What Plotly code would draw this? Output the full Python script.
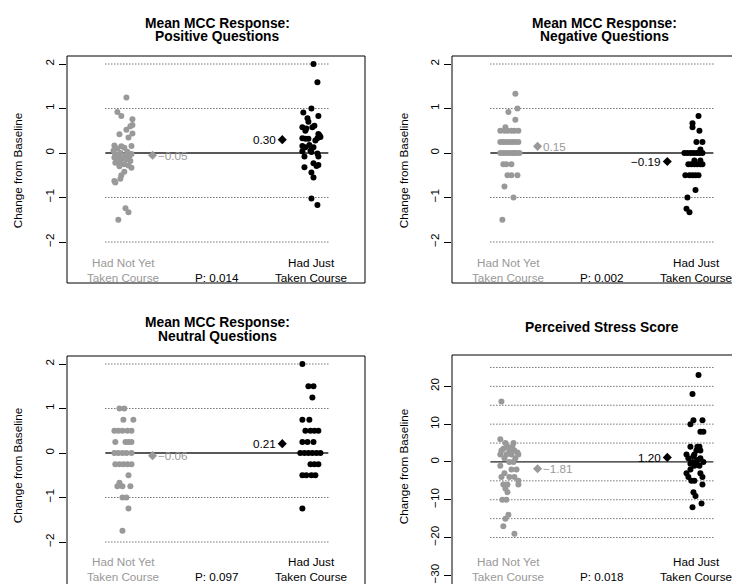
import plotly.graph_objects as go

# ---------------- data ----------------
panel_titles = [["Mean MCC Response:", "Positive Questions"],
                ["Mean MCC Response:", "Negative Questions"],
                ["Mean MCC Response:", "Neutral Questions"],
                ["Perceived Stress Score"]]
group_labels = [["Had Not Yet", "Taken Course"], ["Had Just", "Taken Course"]]
y_title = "Change from Baseline"
p_values = ["0.014", "0.002", "0.097", "0.018"]
mean_not = [-0.05, 0.15, -0.06, -1.81]
mean_just = [0.30, -0.19, 0.21, 1.20]
y_ticks = [[-2, -1, 0, 1, 2], [-2, -1, 0, 1, 2], [-2, -1, 0, 1, 2],
           [-30, -20, -10, 0, 10, 20]]
guide_levels = [[-2, -1, 1, 2], [-2, -1, 1, 2], [-2, -1, 1, 2],
                [-20, -15, -10, -5, 5, 10, 15, 20, 25]]

# Positive questions
pos_not = [1.25, 0.92, 0.83, 0.76, 0.63, 0.60, 0.52, 0.44, 0.42, 0.35,
           0.16, 0.17, 0.15, 0.12, 0.10, 0.05, 0.03, 0.00, -0.02, -0.03,
           -0.05, -0.07, -0.08, -0.10, -0.12, -0.14, -0.15, -0.18, -0.20, -0.22,
           -0.25, -0.28, -0.30, -0.33, -0.42, -0.50, -0.58, -0.63, -0.66, -1.24,
           -1.33, -1.50]
pos_not_jit = [0.016, -0.032, -0.011, 0.048, 0.048, 0.037, 0.016, 0.048, -0.021, 0.027,
               0.043, -0.048, -0.011, 0.005, -0.032, -0.053, 0.021, -0.016, 0.043, -0.043,
               0.011, -0.027, 0.032, -0.048, -0.005, 0.016, -0.032, 0.037, -0.016, -0.043,
               0.005, 0.027, -0.021, 0.043, 0.005, -0.011, -0.016, -0.048, -0.043, 0.011,
               0.027, -0.027]
pos_just = [2.00, 1.59, 1.00, 0.91, 0.83, 0.78, 0.70, 0.61, 0.58, 0.58,
            0.55, 0.50, 0.43, 0.40, 0.33, 0.33, 0.32, 0.32, 0.18, 0.16,
            0.13, 0.13, 0.05, 0.04, 0.02, -0.01, -0.08, -0.08, -0.23, -0.27,
            -0.29, -0.32, -0.44, -0.55, -1.02, -1.17, 0.36, 0.28]
pos_just_jit = [0.011, 0.032, 0.0, -0.043, 0.037, -0.021, -0.016, 0.016, -0.048, 0.005,
                -0.027, -0.032, 0.037, 0.043, -0.048, 0.032, -0.032, -0.016, -0.011, -0.048,
                -0.032, 0.011, -0.005, -0.048, 0.0, 0.032, 0.037, -0.037, 0.011, 0.037,
                0.027, -0.037, 0.0, 0.011, 0.0, 0.032, 0.048, 0.021]

# Negative questions
neg_not = [1.33, 1.00, 0.92, 0.75, 0.58,
           0.5, 0.5, 0.5, 0.5, 0.5, 0.5,
           0.25, 0.25, 0.25, 0.25, 0.25, 0.25, 0.25,
           0, 0, 0, 0, 0, 0, 0, 0,
           -0.25, -0.25, -0.25, -0.5, -0.5, -0.5, -0.75, -1.0, -1.5]
neg_not_jit = [0.037, 0.048, 0.0, 0.037, -0.016,
               -0.043, -0.021, -0.005, 0.016, 0.032, 0.053,
               -0.043, -0.027, -0.011, 0.005, 0.021, 0.037, 0.053,
               -0.043, -0.027, -0.011, 0.005, 0.021, 0.032, 0.043, 0.059,
               -0.027, -0.011, 0.016, -0.005, 0.016, 0.048, -0.021, 0.027, -0.032]
neg_just = [0.83, 0.67, 0.58, 0.5, 0.25, 0.25, 0.08,
            0, 0, 0, 0, 0, 0, 0,
            -0.17, -0.17,
            -0.25, -0.25, -0.25, -0.25, -0.25, -0.25,
            -0.5, -0.5, -0.5, -0.5, -0.5,
            -0.83, -1.0, -1.25, -1.33]
neg_just_jit = [0.011, -0.021, -0.021, 0.016, 0.0, 0.032, 0.021,
                -0.064, -0.048, -0.032, -0.016, 0.0, 0.016, 0.032,
                -0.011, 0.021,
                -0.043, -0.027, -0.011, 0.005, 0.021, 0.032,
                -0.059, -0.037, -0.021, -0.005, 0.011,
                -0.005, -0.048, -0.053, -0.037]

# Neutral questions
neu_not = [1.0, 1.0, 0.75, 0.75,
           0.5, 0.5, 0.5, 0.5, 0.5,
           0.25, 0.25, 0.25, 0.25,
           0, 0, 0, 0, 0,
           -0.25, -0.25, -0.25, -0.25, -0.25,
           -0.5, -0.67, -0.75, -0.75, -0.75, -1.0, -1.0, -1.25, -1.75]
neu_not_jit = [-0.021, 0.005, 0.0, 0.053,
               -0.048, -0.027, -0.005, 0.021, 0.043,
               -0.043, 0.011, 0.027, 0.043,
               -0.048, -0.027, -0.005, 0.016, 0.043,
               -0.043, -0.021, 0.0, 0.021, 0.043,
               0.027, -0.021, -0.032, -0.005, 0.037, -0.005, 0.016, 0.027, -0.005]
neu_just = [2.0, 1.5, 1.5, 1.25, 0.75, 0.75,
            0.5, 0.5, 0.5, 0.5,
            0.25, 0.25, 0.25,
            0, 0, 0, 0, 0, 0,
            -0.25, -0.25, -0.25,
            -0.5, -0.5, -0.5, -0.5, -1.25]
neu_just_jit = [-0.048, -0.016, 0.011, 0.005, -0.048, -0.011,
                -0.032, -0.005, 0.016, 0.037,
                -0.048, -0.021, 0.011,
                -0.059, -0.037, -0.016, 0.005, 0.027, 0.048,
                -0.005, 0.016, 0.037,
                -0.048, -0.027, 0.0, 0.021, -0.048]

# Perceived stress score
pss_not = [16, 6, 5, 5, 4, 3.5, 3, 3, 3, 3, 2.5, 2, 2, 2, 2, 1, 1, 0, 0, -1,
           -2, -2, -3, -4, -4, -4, -5, -6, -6, -6, -7, -8, -10, -10, -14, -15,
           -17, -19, 4]
pss_not_jit = [-0.037, -0.043, -0.016, 0.027, -0.005, -0.027, 0.005, 0.032, -0.037, 0.016,
               0.048, -0.043, -0.011, 0.016, 0.053, 0.037, -0.021, 0.005, 0.027, -0.043,
               0.016, 0.043, -0.021, -0.037, 0.005, 0.032, 0.053, -0.027, -0.005, 0.053,
               -0.016, -0.005, -0.032, -0.011, 0.0, -0.016, -0.027, 0.032, 0.021]
pss_just = [23, 18, 11, 11, 10, 8, 8, 4, 4, 4, 3, 3, 2, 2, 1.5, 1, 1, 0.5, 0, 0,
            0, -0.5, -1, -1, -2, -3, -3, -4, -4, -5, -5, -6, -8, -9, -11, -12]
pss_just_jit = [0.011, -0.021, -0.016, 0.032, -0.032, 0.021, 0.037, -0.032, 0.005, 0.016,
                0.0, 0.021, -0.053, -0.011, -0.016, 0.021, -0.043, 0.005, -0.021, 0.0,
                0.037, -0.032, -0.011, 0.016, -0.032, -0.053, 0.021, -0.043, 0.032, -0.027,
                -0.011, 0.032, -0.016, -0.005, 0.027, -0.021]

not_y = [pos_not, neg_not, neu_not, pss_not]
not_jit = [pos_not_jit, neg_not_jit, neu_not_jit, pss_not_jit]
just_y = [pos_just, neg_just, neu_just, pss_just]
just_jit = [pos_just_jit, neg_just_jit, neu_just_jit, pss_just_jit]

# ---------------- layout geometry ----------------
# the page body has an 8px margin, so the figure is placed at (8, 8)
OFF = 8
W, H = 740 - OFF, 584 - OFF
GRAY = "#999999"
FONT = "Liberation Sans, Arial, Helvetica, sans-serif"
FS = 11.7

# boxes in window pixels (left, right, top, bottom)
boxes = [(67, 365, 56, 283), (452, 738, 56, 283), (67, 365, 356, 584), (452, 738, 355, 584)]
xranges = [[0.70, 2.285], [0.70, 2.221], [0.70, 2.285], [0.70, 2.221]]
yranges = [[-2.921, 2.180], [-2.921, 2.180], [-2.944, 2.180], [-32.3, 28.3]]
title_pos = [[(217.7, 23.3), (217.7, 36.5)], [(604.5, 23.3), (604.5, 36.5)],
             [(217.7, 322.3), (217.7, 336.7)], [(601.7, 327.3)]]
ytitle_pos = [(17.3, 170), (403.3, 170), (17.3, 465), (403.3, 466)]
label_rows = [(262.5, 277), (262.5, 277), (561.3, 576), (561.3, 576)]
bottom_open = [False, False, True, True]

X_NOT, X_JUST = 1.0, 2.0
X_MEAN_NOT, X_MEAN_JUST = 1.155, 1.845
GUIDE_X = (0.904, 2.09)


def px(xp):
    return (xp - OFF) / W


def py(yp):
    return 1 - (yp - OFF) / H


def fmt(v):
    s = "%.2f" % abs(v)
    return ("\u2212" + s) if v < 0 else s


fig = go.Figure()
shapes = []
annotations = []
layout_axes = {}

for i in range(4):
    sfx = "" if i == 0 else str(i + 1)
    xa, ya = "x" + sfx, "y" + sfx
    x0, x1, y0, y1 = boxes[i]
    layout_axes["xaxis" + sfx] = dict(domain=[px(x0), min(1, px(x1))], range=xranges[i],
                                      visible=False, anchor=ya, fixedrange=True)
    layout_axes["yaxis" + sfx] = dict(
        domain=[max(0, py(y1)), py(y0)], range=yranges[i], anchor=xa,
        tickvals=y_ticks[i],
        ticktext=[("\u2212" + str(abs(v))) if v < 0 else str(v) for v in y_ticks[i]],
        ticks="outside", ticklen=7, tickwidth=1, tickcolor="black",
        tickangle=-90, tickfont=dict(family=FONT, size=FS, color="black"),
        showgrid=False, zeroline=False, showline=False, fixedrange=True)

    # dotted guide lines and solid zero line
    for lv in guide_levels[i]:
        shapes.append(dict(type="line", xref=xa, yref=ya, x0=GUIDE_X[0], x1=GUIDE_X[1],
                           y0=lv, y1=lv, layer="below",
                           line=dict(color="#333333", width=1, dash="1px,2px")))
    shapes.append(dict(type="line", xref=xa, yref=ya, x0=GUIDE_X[0], x1=GUIDE_X[1],
                       y0=0, y1=0, layer="below", line=dict(color="#222222", width=1.3)))
    # box
    shapes.append(dict(type="rect", xref=xa + " domain", yref=ya + " domain",
                       x0=0, x1=1, y0=(-0.05 if bottom_open[i] else 0), y1=1,
                       line=dict(color="black", width=1), fillcolor="rgba(0,0,0,0)",
                       layer="above"))

    # points
    fig.add_trace(go.Scatter(x=[X_NOT + j for j in not_jit[i]], y=not_y[i], xaxis=xa, yaxis=ya,
                             mode="markers", marker=dict(color=GRAY, size=6, line=dict(width=0)),
                             hoverinfo="y"))
    fig.add_trace(go.Scatter(x=[X_JUST + j for j in just_jit[i]], y=just_y[i], xaxis=xa, yaxis=ya,
                             mode="markers", marker=dict(color="black", size=6, line=dict(width=0)),
                             hoverinfo="y"))
    # means
    fig.add_trace(go.Scatter(x=[X_MEAN_NOT], y=[mean_not[i]], xaxis=xa, yaxis=ya, mode="markers",
                             marker=dict(symbol="diamond", color=GRAY, size=7, line=dict(width=0))))
    fig.add_trace(go.Scatter(x=[X_MEAN_JUST], y=[mean_just[i]], xaxis=xa, yaxis=ya, mode="markers",
                             marker=dict(symbol="diamond", color="black", size=7, line=dict(width=0))))

    annotations.append(dict(x=X_MEAN_NOT, y=mean_not[i], xref=xa, yref=ya, text=fmt(mean_not[i]),
                            showarrow=False, xanchor="left", yanchor="middle", xshift=3,
                            font=dict(family=FONT, size=FS, color=GRAY)))
    annotations.append(dict(x=X_MEAN_JUST, y=mean_just[i], xref=xa, yref=ya, text=fmt(mean_just[i]),
                            showarrow=False, xanchor="right", yanchor="middle", xshift=-4,
                            font=dict(family=FONT, size=FS, color="black")))

    # group labels and p value
    r1, r2 = label_rows[i]
    for gx, glab, col in [(X_NOT, group_labels[0], GRAY), (X_JUST, group_labels[1], "black")]:
        for txt, ry in zip(glab, (r1, r2)):
            annotations.append(dict(x=gx, y=py(ry), xref=xa, yref="paper", text=txt,
                                    showarrow=False, xanchor="center", yanchor="middle",
                                    font=dict(family=FONT, size=FS, color=col)))
    annotations.append(dict(x=(X_NOT + X_JUST) / 2, y=py(r2), xref=xa, yref="paper",
                            text="P: " + p_values[i], showarrow=False, xanchor="center",
                            yanchor="middle", font=dict(family=FONT, size=FS, color="black")))

    # titles
    for txt, (tx, ty) in zip(panel_titles[i], title_pos[i]):
        annotations.append(dict(x=px(tx), y=py(ty), xref="paper", yref="paper",
                                text="<b>" + txt + "</b>", showarrow=False,
                                xanchor="center", yanchor="middle",
                                font=dict(family=FONT, size=13.8, color="black")))
    # y title
    yx, yy = ytitle_pos[i]
    annotations.append(dict(x=px(yx), y=py(yy), xref="paper", yref="paper", text=y_title,
                            showarrow=False, textangle=-90, xanchor="center", yanchor="middle",
                            font=dict(family=FONT, size=FS, color="black")))

fig.update_layout(width=W, height=H, margin=dict(l=0, r=0, t=0, b=0),
                  paper_bgcolor="white", plot_bgcolor="white", showlegend=False,
                  shapes=shapes, annotations=annotations, **layout_axes)

fig.write_html("out.html")
